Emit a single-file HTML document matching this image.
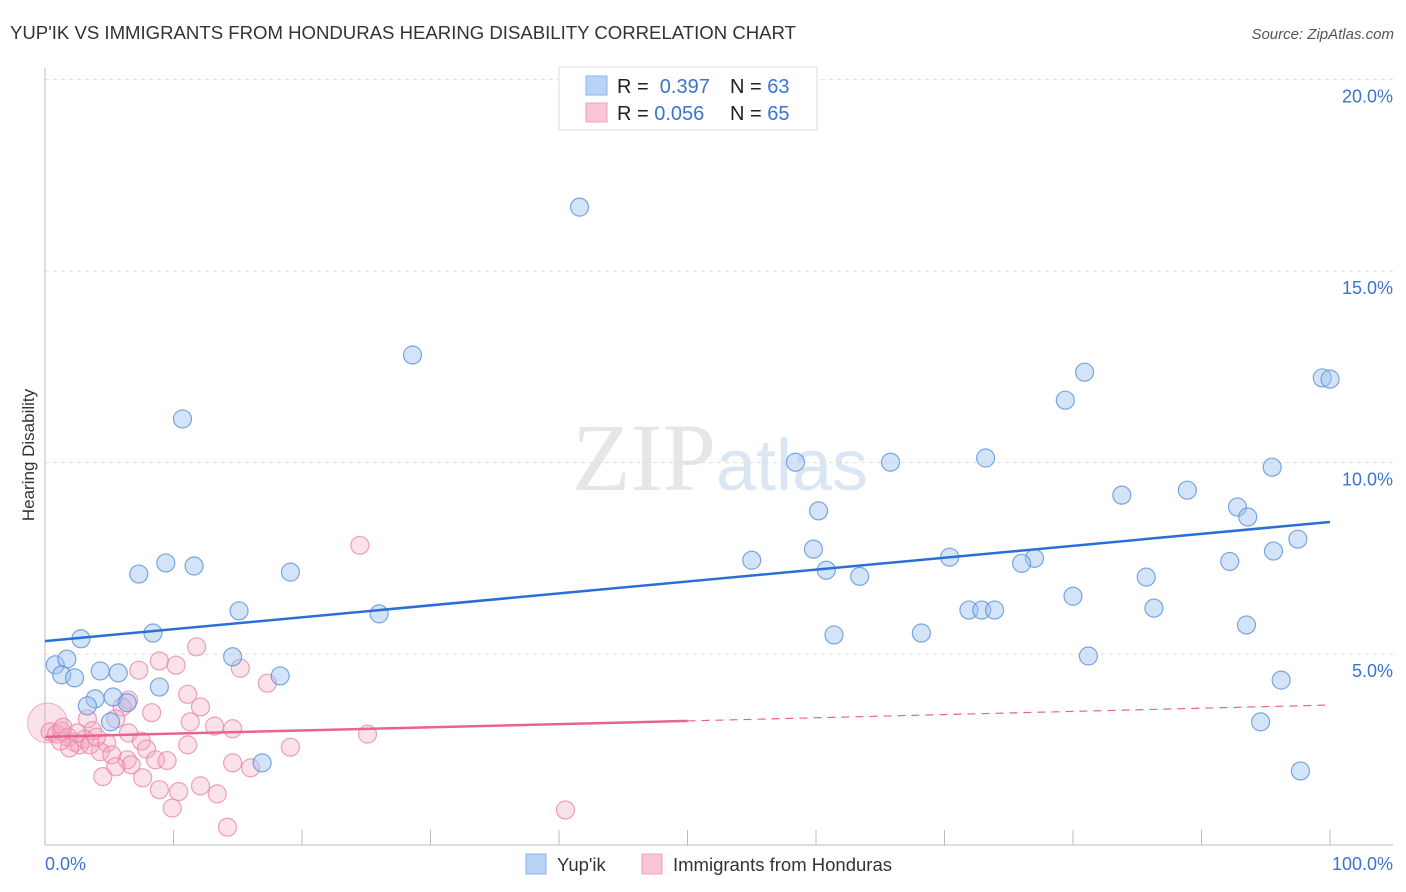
<!DOCTYPE html>
<html><head><meta charset="utf-8"><style>
body{margin:0;background:#fff;font-family:"Liberation Sans",sans-serif}
svg{display:block}
</style></head><body>
<svg id="c" width="1406" height="892">
<text x="10" y="39" font-size="18.5" fill="#333" textLength="786" lengthAdjust="spacingAndGlyphs">YUP'IK VS IMMIGRANTS FROM HONDURAS HEARING DISABILITY CORRELATION CHART</text>
<text x="1394" y="39" font-size="15" fill="#555" font-style="italic" text-anchor="end">Source: ZipAtlas.com</text>
<text x="720" y="490" font-size="96" fill="#e6e6e6" text-anchor="middle" font-family="Liberation Serif">ZIP<tspan fill="#dbe6f5" font-family="Liberation Sans" font-size="72">atlas</tspan></text>
<text transform="translate(34,455) rotate(-90)" font-size="17" fill="#333" text-anchor="middle">Hearing Disability</text>
<g id="grid"></g><g id="pts"></g><g id="lines"></g>
<g>
<rect x="559" y="67" width="258" height="63" fill="#fff" stroke="#ddd"/>
<rect x="586" y="76" width="21" height="19" fill="#b8d3f5" stroke="#8ab4ea"/>
<rect x="586" y="103" width="21" height="19" fill="#f9c6d5" stroke="#f0a0bb"/>
<text x="617" y="93" font-size="20" fill="#222">R = <tspan fill="#3a74d0">&#160;0.397</tspan></text>
<text x="730" y="93" font-size="20" fill="#222">N = <tspan fill="#3a74d0">63</tspan></text>
<text x="617" y="120" font-size="20" fill="#222">R = <tspan fill="#3a74d0">0.056</tspan></text>
<text x="730" y="120" font-size="20" fill="#222">N = <tspan fill="#3a74d0">65</tspan></text>
</g>
<g>
<rect x="526" y="854" width="20" height="20" fill="#b8d3f5" stroke="#8ab4ea"/>
<text x="557" y="871" font-size="18.5" fill="#333">Yup'ik</text>
<rect x="642" y="854" width="20" height="20" fill="#f9c6d5" stroke="#f0a0bb"/>
<text x="673" y="871" font-size="18.5" fill="#333">Immigrants from Honduras</text>
</g>
</svg>
<script>
const yTicks=[5,10,15,20];
const yTickLabels=["5.0%","10.0%","15.0%","20.0%"];
const xTickVals=[0,10,20,30,40,50,60,70,80,90,100];
const blueX=[41.6,28.6,10.7,80.9,79.4,99.4,100,58.4,65.8,73.2,95.5,83.8,88.9,60.2,92.8,93.6,97.5,95.6,59.8,55.0,70.4,77.0,76.0,92.2,60.8,63.4,85.7,80.0,71.9,72.9,73.9,86.3,93.5,61.4,68.2,81.2,96.2,94.6,97.7,7.3,9.4,11.6,19.1,15.1,26.0,8.4,2.8,0.8,1.7,1.3,2.3,4.3,5.7,14.6,18.3,8.9,3.9,5.3,3.3,6.4,5.1,16.9];
const blueY=[16.67,12.81,11.14,12.36,11.63,12.21,12.18,10.01,10.01,10.12,9.88,9.15,9.28,8.74,8.84,8.58,8.00,7.69,7.74,7.45,7.53,7.50,7.37,7.42,7.19,7.03,7.01,6.51,6.15,6.15,6.15,6.20,5.76,5.50,5.55,4.95,4.32,3.23,1.95,7.09,7.38,7.30,7.14,6.13,6.05,5.55,5.40,4.72,4.87,4.46,4.38,4.56,4.51,4.93,4.43,4.14,3.83,3.88,3.65,3.73,3.23,2.16];
const pinkX=[24.5,11.8,8.9,10.2,7.3,15.2,17.3,11.1,12.1,6.5,8.3,6.0,11.3,13.2,14.6,3.3,3.7,5.5,6.5,7.5,4.8,11.1,19.1,25.1,7.9,4.3,5.2,6.4,8.6,9.5,14.6,16.0,6.7,5.5,4.5,7.6,8.9,10.4,12.1,13.4,9.9,14.2,40.5,0.4,0.9,1.3,1.8,2.3,2.7,3.1,1.9,1.2,3.5,4.0,1.4,2.5];
const pinkY=[7.84,5.19,4.82,4.71,4.58,4.63,4.24,3.95,3.62,3.80,3.47,3.62,3.23,3.12,3.05,3.31,3.00,3.31,2.94,2.73,2.68,2.63,2.57,2.91,2.52,2.45,2.37,2.24,2.24,2.22,2.16,2.03,2.11,2.06,1.80,1.77,1.46,1.41,1.56,1.35,0.98,0.48,0.93,2.97,2.91,2.99,2.83,2.70,2.63,2.78,2.55,2.73,2.63,2.83,3.09,2.94];
const bigPink=[0.2,3.2];
const blueTrend=[5.34,8.45];
const pinkTrend=[2.84,3.67];
const X=v=>45+v*12.85, Y=v=>845.6-v*38.3;
const NS="http://www.w3.org/2000/svg";
function mk(t,a,p){const e=document.createElementNS(NS,t);for(const k in a)e.setAttribute(k,a[k]);p.appendChild(e);return e;}
const g=document.getElementById('grid'),P=document.getElementById('pts'),L=document.getElementById('lines');
yTicks.forEach((v,i)=>{
 const l=mk('line',{x1:45,x2:1393,y1:Y(v),y2:Y(v),stroke:'#ddd','stroke-dasharray':'4,4'},g);
 
 
 const t=mk('text',{x:1393,y:Y(v)+23,'font-size':18,fill:'#3a74d0','text-anchor':'end'},g);
 t.textContent=yTickLabels[i];
 
 
});
const ax=mk('line',{x1:45,x2:45,y1:68,y2:845,stroke:'#bbb'},g);


const bx=mk('line',{x1:45,x2:1393,y1:845,y2:845,stroke:'#bbb'},g);


xTickVals.forEach(v=>{
 const t=mk('line',{x1:X(v),x2:X(v),y1:830,y2:845,stroke:'#bbb'},g);
 
 
});
const xl=mk('text',{x:45,y:870,'font-size':18,fill:'#3a74d0'},g);xl.textContent='0.0%';


const xr=mk('text',{x:1393,y:870,'font-size':18,fill:'#3a74d0','text-anchor':'end'},g);xr.textContent='100.0%';


const bp=mk('circle',{cx:X(bigPink[0]),cy:Y(bigPink[1]),r:20,fill:'rgba(244,170,195,0.35)',stroke:'rgba(232,130,165,0.6)'},P);


pinkX.forEach((x,i)=>{
 const c=mk('circle',{cx:X(x),cy:Y(pinkY[i]),r:9,fill:'rgba(244,170,195,0.35)',stroke:'rgba(232,130,165,0.75)','stroke-width':1.2},P);
 
 
});
blueX.forEach((x,i)=>{
 const c=mk('circle',{cx:X(x),cy:Y(blueY[i]),r:9,fill:'rgba(160,196,240,0.45)',stroke:'rgba(90,145,220,0.8)','stroke-width':1.2},P);
 
 
});
const bl=mk('line',{x1:X(0),y1:Y(blueTrend[0]),x2:X(100),y2:Y(blueTrend[1]),stroke:'#2a6fd6','stroke-width':2.5},L);


const pm=pinkTrend[0]+(pinkTrend[1]-pinkTrend[0])*0.5;
const pl=mk('line',{x1:X(0),y1:Y(pinkTrend[0]),x2:X(50),y2:Y(pm),stroke:'#e8648f','stroke-width':2.5},L);


const pd=mk('line',{x1:X(50),y1:Y(pm),x2:X(100),y2:Y(pinkTrend[1]),stroke:'#e8648f','stroke-width':1.2,'stroke-dasharray':'8,6'},L);


</script>
</body></html>
